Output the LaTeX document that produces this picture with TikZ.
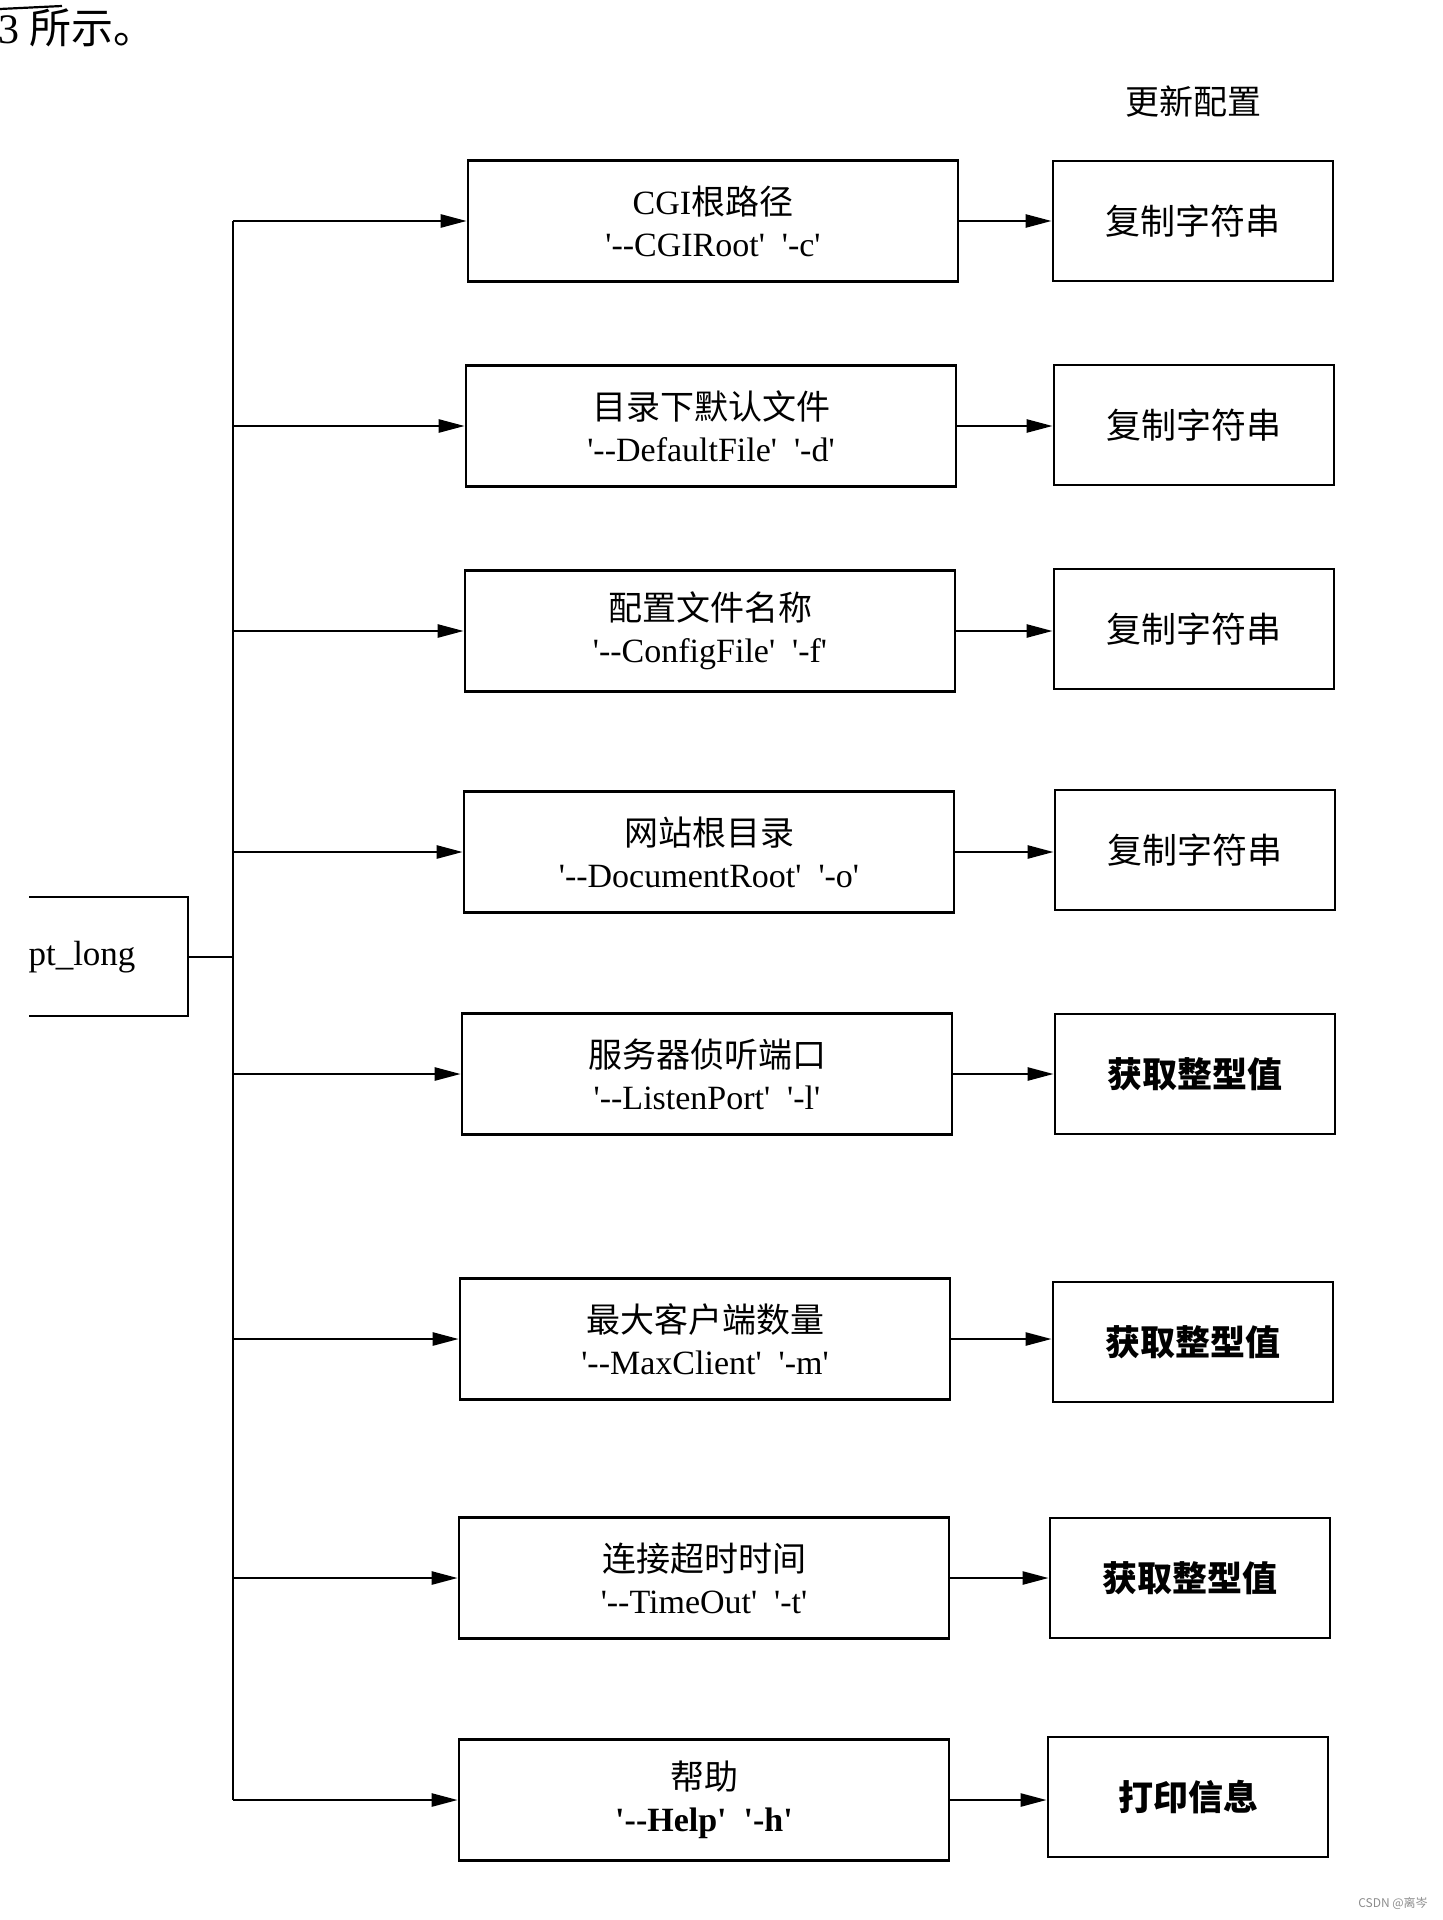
\documentclass[tikz,border=0pt]{standalone}
\usepackage{fontspec}
\setmainfont{Liberation Serif}[Ligatures=TeXOff]
\newfontfamily\cjk{Noto Sans CJK SC}
\usetikzlibrary{arrows.meta}
\tikzset{
  px/.style={x=0.5pt,y=-0.5pt},
  midbox/.style={draw, line width=1.3pt, minimum width=245pt, minimum height=60.5pt,
    align=center, inner sep=0pt, font=\fontsize{17}{21}\selectfont},
  resbox/.style={draw, line width=1.4pt, minimum width=140pt, minimum height=60pt,
    inner sep=0pt, font=\cjk\fontsize{17.5}{21}\selectfont},
  boldres/.style={resbox, font=\cjk\bfseries\fontsize{17.5}{21}\selectfont},
  conn/.style={line width=1.25pt},
  arr/.style={conn, -{Triangle[length=13pt,width=6.5pt]}},
}
\begin{document}
\begin{tikzpicture}[px]
\useasboundingbox (0,0) rectangle (1442,1920);
% fragment of the text above
\node[anchor=base west, inner sep=0pt, font=\fontsize{21}{21}\selectfont] (cap) at (-2,44) {3 {\cjk 所示。}};
\draw[line width=1.1pt] (0,9) -- (62,6);
% header
\node[font=\cjk\fontsize{17}{17}\selectfont] (hdr) at (1193,102) {更新配置};
% source box (cut off on the left)
\node[font=\fontsize{17.5}{18}\selectfont] (src) at (82,957) {pt\_long};
\draw[line width=1.3pt] (29,897) -| (188,1016) -- (29,1016);
\coordinate (srcE) at (188,957);
\coordinate (tr) at (233,957);
% middle boxes
\node[midbox] (m1) at (713,221) {CGI{\cjk 根路径}\\'--CGIRoot'\ \ '-c'};
\node[midbox] (m2) at (711,426) {{\cjk 目录下默认文件}\\'--DefaultFile'\ \ '-d'};
\node[midbox] (m3) at (710,631) {{\cjk 配置文件名称}\\'--ConfigFile'\ \ '-f'};
\node[midbox] (m4) at (709,852) {{\cjk 网站根目录}\\'--DocumentRoot'\ \ '-o'};
\node[midbox] (m5) at (707,1074) {{\cjk 服务器侦听端口}\\'--ListenPort'\ \ '-l'};
\node[midbox] (m6) at (705,1339) {{\cjk 最大客户端数量}\\'--MaxClient'\ \ '-m'};
\node[midbox] (m7) at (704,1578) {{\cjk 连接超时时间}\\'--TimeOut'\ \ '-t'};
\node[midbox] (m8) at (704,1800) {{\cjk 帮助}\\\textbf{'--Help'\ \ '-h'}};
% result boxes
\node[resbox] (r1) at (1193,221) {复制字符串};
\node[resbox] (r2) at (1194,425) {复制字符串};
\node[resbox] (r3) at (1194,629) {复制字符串};
\node[resbox] (r4) at (1195,850) {复制字符串};
\node[boldres] (r5) at (1195,1074) {获取整型值};
\node[boldres] (r6) at (1193,1342) {获取整型值};
\node[boldres] (r7) at (1190,1578) {获取整型值};
\node[boldres] (r8) at (1188,1797) {打印信息};
% connectors
\draw[conn] (srcE) -- (tr);
\draw[conn] (tr |- m1.west) -- (tr |- m8.west);
\foreach \i in {1,...,8} {
  \draw[arr] (tr |- m\i.west) -- (m\i.west);
  \draw[arr] (m\i.east) -- (m\i.east -| r\i.west);
}
% watermark
\node[font=\cjk\fontsize{6}{6}\selectfont, text=black!45] (wm) at (1393,1903) {CSDN @离岑};
\end{tikzpicture}
\end{document}
